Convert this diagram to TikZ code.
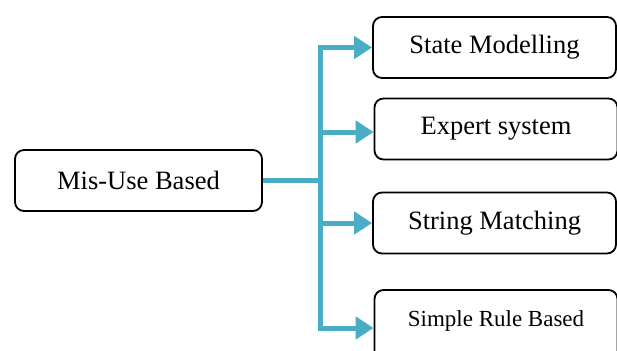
\documentclass[tikz,border=0pt]{standalone}
\usepackage{fontspec}
\setmainfont{Liberation Serif}
\usetikzlibrary{arrows.meta,positioning}

\definecolor{flowblue}{RGB}{75,172,198}

\begin{document}
\begin{tikzpicture}[
    x=1pt,
    y=-1pt,
    font=\fontsize{26.5}{30}\selectfont,
    text centered
  ]

  \tikzstyle{block} = [rectangle, draw, line width=1.8pt, rounded corners=9pt, minimum width=243pt, minimum height=61pt, inner sep=0pt]
  \tikzstyle{flow} = [draw=flowblue, line width=5pt, -{Triangle[length=18pt,width=22pt]}]

  \useasboundingbox (0,0) rectangle (617,350);

  \node [block, minimum width=247pt] (misuse) at (138.5,180.5) {Mis-Use Based};

  \node [block] (state) at (494.5,47.5) {State Modelling};
  \node [block] (expert) at (496,129) {Expert system};
  \node [block] (string) at (494.5,223) {String Matching};
  \node [block, minimum height=76pt, text depth=19pt, font=\fontsize{23}{26}\selectfont] (simple) at (496,328) {Simple Rule Based};

  \coordinate (hub) at (320,180.5);

  \draw[flow, -] (misuse.east) -- (hub);
  \draw[flow] (hub) |- (state.west);
  \draw[flow] (hub) |- ([yshift=-3pt]expert.west);
  \draw[flow] (hub) |- (string.west);
  \draw[flow] (hub) |- (simple.west);

\end{tikzpicture}
\end{document}
